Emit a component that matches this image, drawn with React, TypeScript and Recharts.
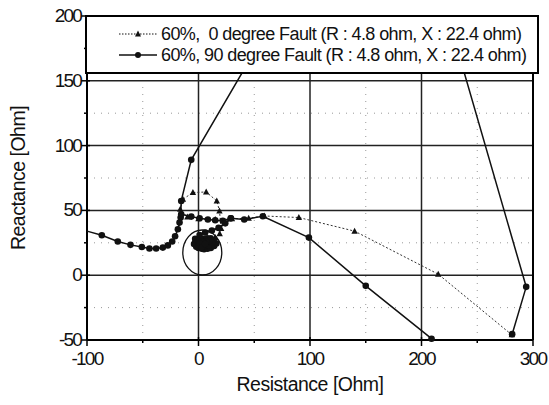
import { ReferenceDot, ReferenceLine, Scatter, ScatterChart, XAxis, YAxis } from 'recharts';

const FONT = '"Liberation Sans", Arial, sans-serif';

// axis ticks (major ones get labels)
const X_TICKS = [-100, -50, 0, 50, 100, 150, 200, 250, 300];
const Y_TICKS = [-50, -25, 0, 25, 50, 75, 100, 125, 150, 175, 200];
const X_MAJOR = [0, 100, 200];
const X_MINOR = [-50, 50, 150, 250];
const Y_MAJOR = [0, 50, 100, 150];
const Y_MINOR = [-25, 25, 75, 125];

// 60%, 0 degree fault trajectory
const S1_R = [281, 215, 140, 90, 59, 45, 30, 15, 0, -10, -16.4, -14, -5, 6.9, 16.4, 18.8, 20.3, 19, 15, 10, 5, 1, 3, 8, 12, 9, 4, 6, 10, 7, 2, 5];
const S1_X = [-46, 0.8, 34, 44.5, 45.7, 44, 43.5, 43, 43.5, 45, 50.9, 58.6, 63.8, 64.2, 57.3, 49.6, 36, 32, 29, 27, 26, 25, 23, 22, 24, 26, 24, 22, 25, 27, 23, 24];

// 60%, 90 degree fault trajectory (three pieces)
const S2A_R = [281.3, 293.9, 227, 62, -6.5, -15.5, -16, -17, -18.5, -21, -23.6, -27.5, -32, -38, -44, -50.8, -61, -72.4, -86.7, -100];
const S2A_X = [-45.5, -9, 190, 190, 89, 57.3, 44.5, 40.6, 35.5, 30, 26, 23, 21.3, 20.6, 20.6, 21.8, 23.4, 26, 30.8, 34];
const S2B_R = [209, 150, 99, 57.7, 41, 29, 21.8, 15, 8.4, 1, -6.5, -15.5];
const S2B_X = [-49, -8.2, 29, 45.5, 43, 44, 42, 42.4, 43, 44, 45.2, 47];
const S2C_R = [29, 24, 18, 12, 6, 1, -3, -4, -2, 0, 3, 5, 8, 11, 14, 16, 14, 11, 8, 5, 2, -1, -3, 0, 3, 6, 9, 12, 10, 7, 4, 1, 3, 6];
const S2C_X = [44, 40, 36.5, 34.5, 33, 31, 28, 24, 22, 21, 20.5, 20, 20.5, 21, 22.5, 24.5, 27, 28.5, 28.5, 28, 27.5, 26.5, 25, 23, 22.5, 22.5, 23, 25, 26.5, 26, 25.5, 24.5, 21.5, 24];

const LEGEND = [
  '60%,  0 degree Fault (R : 4.8 ohm, X : 22.4 ohm)',
  '60%, 90 degree Fault (R : 4.8 ohm, X : 22.4 ohm)',
];

const toPoints = (r: number[], x: number[]) => r.map((v, i) => ({ r: v, x: x[i] }));

const s1 = toPoints(S1_R, S1_X);
const s2a = toPoints(S2A_R, S2A_X);
const s2b = toPoints(S2B_R, S2B_X);
const s2c = toPoints(S2C_R, S2C_X);

// points sitting on the plot edge or under the legend get no marker
const hidden = (p: any) => p && (p.r <= -100 || p.x >= 160);

const Triangle = (props: any) => {
  const { cx, cy, payload } = props;
  if (hidden(payload)) return <g />;
  return <path d={`M${cx},${cy - 3.5}L${cx + 3.2},${cy + 2.5}L${cx - 3.2},${cy + 2.5}Z`} fill="#111" />;
};

const Dot = (props: any) => {
  const { cx, cy, payload } = props;
  if (hidden(payload)) return <g />;
  return <circle cx={cx} cy={cy} r={3.3} fill="#111" />;
};

const XTick = (props: any) => {
  const { x, y, payload } = props;
  const major = payload.value % 100 === 0;
  return (
    <g>
      <line x1={x} x2={x} y1={major ? y - 3 : y} y2={major ? y + 6 : y + 3} stroke="#000" strokeWidth={1.5} />
      {major && (
        <text x={x} y={y + 25} textAnchor="middle" fontSize={19} letterSpacing={-1.8} fill="#111" fontFamily={FONT}>
          {payload.value}
        </text>
      )}
    </g>
  );
};

const YTick = (props: any) => {
  const { x, y, payload } = props;
  const major = payload.value % 50 === 0;
  return (
    <g>
      <line x1={major ? x - 6 : x - 3} x2={major ? x + 3 : x} y1={y} y2={y} stroke="#000" strokeWidth={1.5} />
      {major && (
        <text x={x - 6} y={y + 6} textAnchor="end" fontSize={19} letterSpacing={-1.8} fill="#111" fontFamily={FONT}>
          {payload.value}
        </text>
      )}
    </g>
  );
};

const LegendIcon = ({ dashed, tri }: { dashed: boolean; tri: boolean }) => (
  <svg width={40} height={10} style={{ marginRight: 3 }}>
    <line x1={1} x2={39} y1={5} y2={5} stroke="#111" strokeWidth={dashed ? 1 : 1.5} strokeDasharray={dashed ? '1.5 1.5' : undefined} />
    {tri ? <path d="M20,1.5L23,7.5L17,7.5Z" fill="#111" /> : <circle cx={20} cy={5} r={3} fill="#111" />}
  </svg>
);

export default function App() {
  return (
    <div style={{ position: 'absolute', left: 0, top: 0, width: 549, height: 405, background: '#fff', fontFamily: FONT }}>
      <ScatterChart width={549} height={405} margin={{ top: 16, right: 16, bottom: 0, left: 0 }}>
        <XAxis
          type="number"
          dataKey="r"
          domain={[-100, 300]}
          ticks={X_TICKS}
          interval={0}
          tickSize={0}
          tickMargin={0}
          tickLine={false}
          tick={<XTick />}
          height={65}
          axisLine={{ stroke: '#000', strokeWidth: 2 }}
          label={({ viewBox }: any) => (
            <text x={viewBox.x + viewBox.width / 2} y={viewBox.y + 51} textAnchor="middle" fontSize={19.5} letterSpacing={-0.5} fill="#111" fontFamily={FONT}>
              Resistance [Ohm]
            </text>
          )}
        />
        <YAxis
          type="number"
          dataKey="x"
          domain={[-50, 200]}
          ticks={Y_TICKS}
          interval={0}
          tickSize={0}
          tickMargin={0}
          tickLine={false}
          tick={<YTick />}
          width={87}
          axisLine={{ stroke: '#000', strokeWidth: 2 }}
          label={({ viewBox }: any) => {
            const cy = viewBox.y + viewBox.height / 2;
            return (
              <text x={25} y={cy} transform={`rotate(-90 25 ${cy})`} textAnchor="middle" fontSize={19.5} letterSpacing={-0.5} fill="#111" fontFamily={FONT}>
                Reactance [Ohm]
              </text>
            );
          }}
        />
        {Y_MINOR.map((v) => (
          <ReferenceLine key={`ym${v}`} y={v} stroke="#999" strokeWidth={1} strokeDasharray="1 6" />
        ))}
        {X_MINOR.map((v) => (
          <ReferenceLine key={`xm${v}`} x={v} stroke="#999" strokeWidth={1} strokeDasharray="1 6" />
        ))}
        {Y_MAJOR.map((v) => (
          <ReferenceLine key={`y${v}`} y={v} stroke="#222" strokeWidth={1.5} />
        ))}
        {X_MAJOR.map((v) => (
          <ReferenceLine key={`x${v}`} x={v} stroke="#222" strokeWidth={1.5} />
        ))}
        <ReferenceLine x={300} stroke="#000" strokeWidth={2} />
        <ReferenceLine y={200} stroke="#000" strokeWidth={2} />
        <ReferenceDot
          x={3.4}
          y={17.5}
          r={20}
          shape={(p: any) => <ellipse cx={p.cx} cy={p.cy} rx={19.5} ry={22.5} fill="none" stroke="#111" strokeWidth={1.3} />}
        />
        <Scatter
          data={s1}
          line={{ stroke: '#333', strokeWidth: 1, strokeDasharray: '2 2' }}
          lineJointType="linear"
          shape={<Triangle />}
          isAnimationActive={false}
        />
        <Scatter data={s2a} line={{ stroke: '#111', strokeWidth: 1.5 }} lineJointType="linear" shape={<Dot />} isAnimationActive={false} />
        <Scatter data={s2b} line={{ stroke: '#111', strokeWidth: 1.5 }} lineJointType="linear" shape={<Dot />} isAnimationActive={false} />
        <Scatter data={s2c} line={{ stroke: '#111', strokeWidth: 2 }} lineJointType="linear" shape={<Dot />} isAnimationActive={false} />
      </ScatterChart>
      <div
        style={{
          position: 'absolute',
          left: 85,
          top: 15,
          width: 450,
          height: 55,
          background: '#fff',
          border: '2px solid #000',
          boxSizing: 'content-box',
          display: 'flex',
          flexDirection: 'column',
          justifyContent: 'center',
        }}
      >
        {LEGEND.map((t, i) => (
          <div key={t} style={{ display: 'flex', alignItems: 'center', height: 21, paddingLeft: 31, fontSize: 18, letterSpacing: -0.6, color: '#111', whiteSpace: 'pre' }}>
            <LegendIcon dashed={i === 0} tri={i === 0} />
            {t}
          </div>
        ))}
      </div>
    </div>
  );
}
